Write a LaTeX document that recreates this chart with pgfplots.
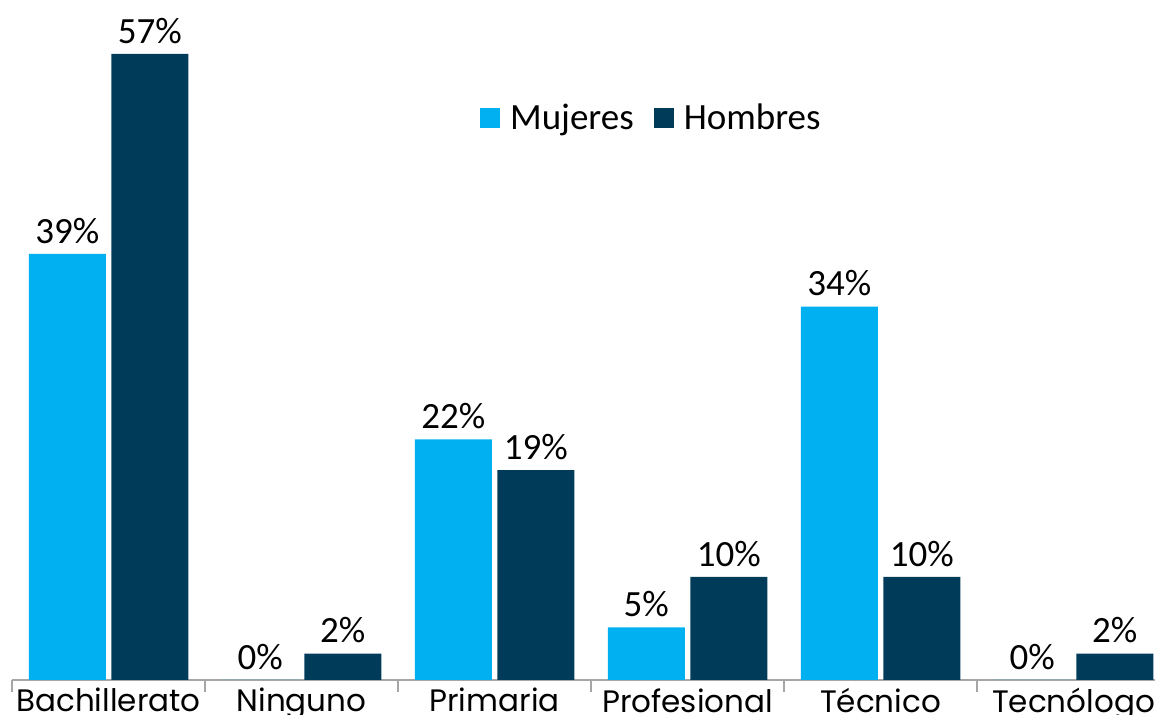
\documentclass[border=0pt]{standalone}
\usepackage{fontspec}
\setmainfont{Carlito}
\newfontfamily\gothic{Poppins}
\usepackage{pgfplots}
\usepackage{pgfplotstable}
\pgfplotsset{compat=1.18}
\definecolor{mujer}{HTML}{00B0F0}
\definecolor{hombre}{HTML}{003C5A}
\definecolor{axisgray}{HTML}{A6A6A6}

% x: category index, m/h: bar heights, ml/hl: printed labels
\pgfplotstableread{
x m    ml h    hl
0 38.8 39 57.0 57
1 0    0  2.4  2
2 21.9 22 19.1 19
3 4.8  5  9.4  10
4 34.0 34 9.4  10
5 0    0  2.4  2
}\niveles

\begin{document}
\begin{tikzpicture}
\path[use as bounding box, clip] (0,0) rectangle (577.5pt,357.5pt);
\begin{axis}[
    at={(6pt,17.5pt)}, anchor=south west,
    scale only axis,
    width=579pt, height=329.5pt,
    xmin=-0.5, xmax=5.5,
    ymin=0, ymax=60,
    axis y line=none,
    axis x line*=bottom,
    x axis line style={-, axisgray, line width=1pt},
    ybar=2.75pt, bar width=38.5pt,
    clip=false,
    xtick={0,...,5},
    xticklabels={Bachillerato,Ninguno,Primaria,Profesional,Técnico,Tecnólogo},
    major tick length=0pt,
    xticklabel style={font=\gothic\fontsize{15.5}{18}\selectfont, anchor=north, inner sep=0pt, yshift=-4pt},
    extra x ticks={-0.5,0.5,1.5,2.5,3.5,4.5,5.5},
    extra x tick labels={},
    extra x tick style={major tick length=6pt, tick align=outside,
        major tick style={axisgray, line width=1pt}},
    point meta=explicit symbolic,
    nodes near coords={\pgfplotspointmeta\%},
    every node near coord/.append style={font=\fontsize{18.5}{22}\selectfont, anchor=south, inner sep=0pt, yshift=5pt, black},
    legend style={at={(0.553,0.853)}, anchor=center, draw=none, fill=none,
        legend columns=2, font=\fontsize{18.5}{22}\selectfont,
        /tikz/every odd column/.append style={column sep=3pt},
        /tikz/every even column/.append style={column sep=8pt}},
    legend image code/.code={\fill[#1] (0pt,-5pt) rectangle (10pt,5pt);},
]
\addplot[fill=mujer, draw=none] table[x=x, y=m, meta=ml] {\niveles};
\addplot[fill=hombre, draw=none] table[x=x, y=h, meta=hl] {\niveles};
\legend{Mujeres, Hombres}
\end{axis}
\end{tikzpicture}
\end{document}
